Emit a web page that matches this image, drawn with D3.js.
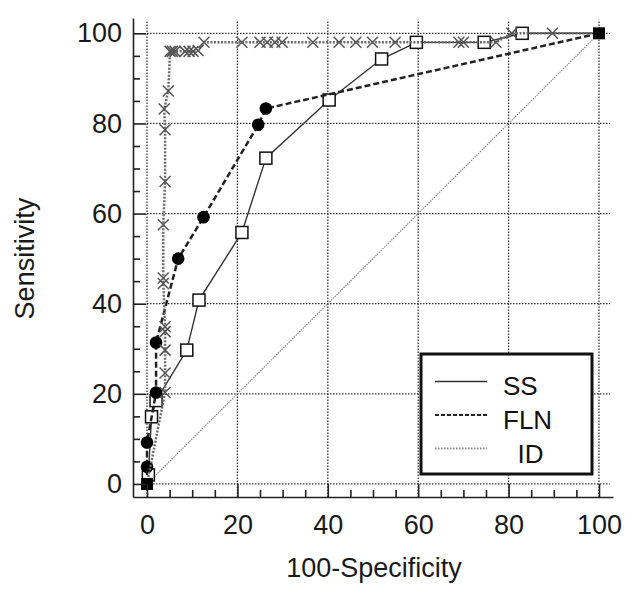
<!DOCTYPE html>
<html>
<head>
<meta charset="utf-8">
<script src="https://cdn.jsdelivr.net/npm/d3@7"></script>
<style>
  html, body { margin: 0; padding: 0; background: #fff; }
  svg { display: block; font-family: "Liberation Sans", Arial, sans-serif; }
</style>
</head>
<body>
<svg id="chart" width="643" height="595"></svg>
<script>
// ---- data ----
const ssX  = [0, 0.3, 1.0, 2.0, 8.8, 11.5, 21.0, 26.3, 40.3, 51.9, 59.6, 74.6, 83.0, 100];
const ssY  = [0, 2.0, 14.9, 18.5, 29.7, 40.8, 55.8, 72.3, 85.2, 94.3, 98.0, 98.0, 100, 100];

const flnX = [0, 0, 0, 2.0, 2.0, 6.9, 12.5, 24.6, 26.3, 100];
const flnY = [0, 3.8, 9.2, 20.3, 31.4, 50.0, 59.2, 79.7, 83.3, 100];

const idX  = [0, 4.0, 4.0, 4.0, 4.0, 4.0, 3.6, 3.6, 3.6, 4.0, 4.0, 3.8, 4.7, 5.1, 5.6, 6.2, 8.4, 9.3, 10.2, 11.3, 12.6,
              21.0, 25.0, 26.6, 28.3, 29.9, 36.7, 42.5, 46.2, 49.9, 54.9, 69.0, 70.0, 77.2, 80.7, 89.7, 100];
const idY  = [0, 20.3, 24.6, 29.7, 33.8, 34.9, 44.5, 45.7, 57.5, 67.1, 78.6, 83.2, 87.2, 96, 96, 96, 96, 96, 96, 96.2, 98,
              98, 98, 98, 98, 98, 98, 98, 98, 98, 98, 98, 98, 98, 100, 100, 100];

const majorTicks = [0, 20, 40, 60, 80, 100];
const minorTicks = d3.range(0, 101, 5).filter(v => v % 20 !== 0);
const legendLabels = ["SS", "FLN", "  ID"];
const xTitle = "100-Specificity";
const yTitle = "Sensitivity";

// ---- scales ----
const xExt = [-3.1, 103.1], yExt = [-2.9, 103.4];
const x = d3.scaleLinear().domain(xExt).range([133, 613]);
const y = d3.scaleLinear().domain(yExt).range([497, 18]);

const svg = d3.select("#chart");

// gridlines
const grid = svg.append("g").attr("stroke", "#333").attr("stroke-width", 1.3).attr("stroke-dasharray", "1.5,1.5");
grid.selectAll("line.v").data(majorTicks).join("line")
  .attr("x1", d => x(d)).attr("x2", d => x(d))
  .attr("y1", y(yExt[0])).attr("y2", y(103));
grid.selectAll("line.h").data(majorTicks).join("line")
  .attr("y1", d => y(d)).attr("y2", d => y(d))
  .attr("x1", x(0)).attr("x2", x(102.4));

// diagonal reference
svg.append("line")
  .attr("x1", x(0)).attr("y1", y(0)).attr("x2", x(100)).attr("y2", y(100))
  .attr("stroke", "#888").attr("stroke-width", 1.2).attr("stroke-dasharray", "1.5,1");

const line = d3.line().x(d => x(d[0])).y(d => y(d[1]));
const ss = ssX.map((v, i) => [v, ssY[i]]);
const fln = flnX.map((v, i) => [v, flnY[i]]);
const id = idX.map((v, i) => [v, idY[i]]);

// SS
svg.append("path").datum(ss).attr("d", line)
  .attr("fill", "none").attr("stroke", "#333").attr("stroke-width", 1.4);
svg.selectAll("rect.ss").data(ss.slice(1, -1)).join("rect")
  .attr("x", d => x(d[0]) - 6).attr("y", d => y(d[1]) - 6)
  .attr("width", 12).attr("height", 12)
  .attr("fill", "#fff").attr("stroke", "#111").attr("stroke-width", 1.5);

// FLN
svg.append("path").datum(fln).attr("d", line)
  .attr("fill", "none").attr("stroke", "#222").attr("stroke-width", 2.5).attr("stroke-dasharray", "6,3");
svg.selectAll("circle.fln").data(fln.slice(1, -1)).join("circle")
  .attr("cx", d => x(d[0])).attr("cy", d => y(d[1])).attr("r", 6.3)
  .attr("fill", "#000");

// ID
svg.append("path").datum(id).attr("d", line)
  .attr("fill", "none").attr("stroke", "#6a6a6a").attr("stroke-width", 2.5).attr("stroke-dasharray", "2,1.5");
const idM = svg.append("g").attr("stroke", "#555").attr("stroke-width", 1.5);
id.slice(1, -1).forEach(d => {
  const cx = x(d[0]), cy = y(d[1]), s = 5.5;
  idM.append("path").attr("d", `M${cx - s},${cy - s}L${cx + s},${cy + s}M${cx - s},${cy + s}L${cx + s},${cy - s}`);
});

// endpoints
svg.selectAll("rect.end").data([ss[0], ss[ss.length - 1]]).join("rect")
  .attr("x", d => x(d[0]) - 6).attr("y", d => y(d[1]) - 6)
  .attr("width", 12).attr("height", 12).attr("fill", "#000");

// axes
const fs = "27px";
const yAx = svg.append("g").attr("transform", `translate(${x(xExt[0])},0)`);
yAx.call(d3.axisRight(y).tickValues(majorTicks).tickSize(13).tickSizeOuter(0).tickFormat(""));
yAx.append("g").call(d3.axisRight(y).tickValues(minorTicks).tickSize(7).tickSizeOuter(0).tickFormat(""))
  .select(".domain").remove();
const yLab = svg.append("g").attr("transform", `translate(${x(xExt[0])},0)`)
  .call(d3.axisLeft(y).tickValues(majorTicks).tickSize(0).tickPadding(11));
yLab.select(".domain").remove();
yLab.selectAll("text").attr("font-size", fs).attr("fill", "#1a1a1a").attr("font-family", "Liberation Sans, Arial");

const xAx = svg.append("g").attr("transform", `translate(0,${y(yExt[0])})`);
xAx.call(d3.axisTop(x).tickValues(majorTicks).tickSize(13).tickSizeOuter(0).tickFormat(""));
xAx.append("g").call(d3.axisTop(x).tickValues(minorTicks).tickSize(7).tickSizeOuter(0).tickFormat(""))
  .select(".domain").remove();
const xLab = svg.append("g").attr("transform", `translate(0,${y(yExt[0])})`)
  .call(d3.axisBottom(x).tickValues(majorTicks).tickSize(0).tickPadding(18));
xLab.select(".domain").remove();
xLab.selectAll("text").attr("font-size", fs).attr("fill", "#1a1a1a").attr("font-family", "Liberation Sans, Arial");

svg.selectAll(".domain, .tick line").attr("stroke", "#222").attr("stroke-width", 1.6);

// titles
svg.append("text").attr("x", (x(0) + x(100)) / 2 + 1).attr("y", 577)
  .attr("text-anchor", "middle").attr("font-size", fs).attr("fill", "#1a1a1a").text(xTitle);
svg.append("text").attr("transform", `translate(34,${(y(0) + y(100)) / 2}) rotate(-90)`)
  .attr("text-anchor", "middle").attr("font-size", fs).attr("fill", "#1a1a1a").text(yTitle);

// legend
const lg = svg.append("g");
lg.append("rect").attr("x", 421).attr("y", 354).attr("width", 171).attr("height", 120)
  .attr("fill", "#fff").attr("stroke", "#111").attr("stroke-width", 3);
const lstyles = [
  { stroke: "#333", w: 1.6, dash: null },
  { stroke: "#222", w: 2, dash: "4,2" },
  { stroke: "#888", w: 2, dash: "1.5,1.5" }
];
legendLabels.forEach((lab, i) => {
  const ly = 381.5 + i * 33.5;
  const st = lstyles[i];
  const l = lg.append("line").attr("x1", 435).attr("x2", 487).attr("y1", ly).attr("y2", ly)
    .attr("stroke", st.stroke).attr("stroke-width", st.w);
  if (st.dash) l.attr("stroke-dasharray", st.dash);
  lg.append("text").attr("x", 503).attr("y", ly + 7 + i * 0.5).attr("dy", "0.25em")
    .attr("font-size", "26px").attr("fill", "#111").style("white-space", "pre").text(lab);
});
</script>
</body>
</html>
